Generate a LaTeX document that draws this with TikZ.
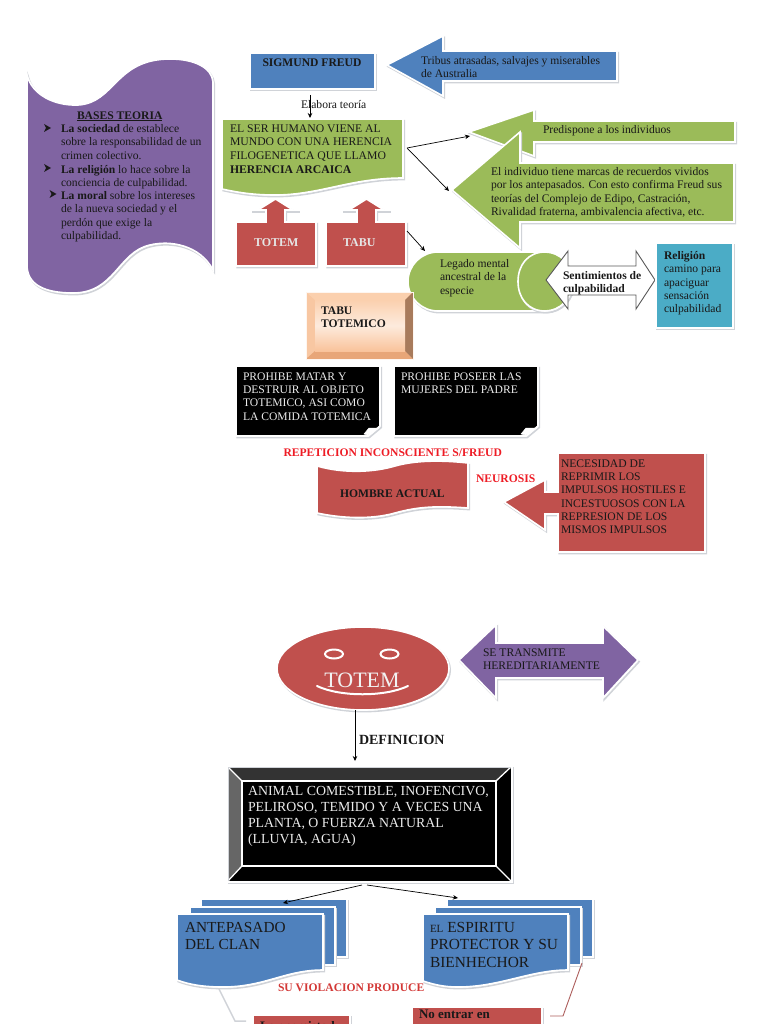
\documentclass[tikz,border=0pt]{standalone}
\usepackage{fontspec}
\setmainfont{Liberation Serif}
\usetikzlibrary{shapes.geometric,calc,arrows.meta}
\definecolor{cblue}{HTML}{4F81BD}
\definecolor{cgreen}{HTML}{9BBB59}
\definecolor{cred}{HTML}{C0504D}
\definecolor{cpurple}{HTML}{8064A2}
\definecolor{cteal}{HTML}{4BACC6}
\definecolor{edge}{HTML}{D0D3D8}
\definecolor{redtxt}{HTML}{EE1C25}
\definecolor{peachA}{HTML}{FBD0AE}
\definecolor{peachB}{HTML}{FDEBDD}
\definecolor{peachC}{HTML}{F9C39B}
\definecolor{peachL}{HTML}{F8C7A2}
\definecolor{peachD}{HTML}{E8A678}
\definecolor{peachR}{HTML}{A87B5C}
\tikzset{
 sh/.style={draw=white,line width=1.6pt,line join=miter,
   preaction={draw=edge,line width=1.6pt,transform canvas={shift={(1.2pt,-1.6pt)}}}},
 boxnode/.style={anchor=north west,inner sep=0pt,outer sep=0pt},
 blueshape/.style={sh,fill=cblue},
 greenshape/.style={sh,fill=cgreen},
 redshape/.style={sh,fill=cred},
 purpleshape/.style={sh,fill=cpurple},
 tealshape/.style={sh,fill=cteal},
 blackshape/.style={sh,fill=black},
 label/.style={inner sep=0pt,outer sep=0pt,anchor=north west,align=left,yshift=-3.5pt,font=\fontsize{11.6}{13.3}\selectfont,text=black!90},
 conn/.style={draw=black,line width=0.7pt,-{Stealth[length=5pt,width=4.5pt]}},
 eye/.style={ellipse,draw=white,fill=cred,line width=2pt,minimum width=18pt,minimum height=9pt,inner sep=0pt}
}
\begin{document}
\begin{tikzpicture}[x=1pt,y=-1pt]
\useasboundingbox (0,0) rectangle (768,1024);
\fill[white] (0,0) rectangle (768,1024);
% purple wave
\path[purpleshape] (27,75) .. controls (32,95) and (55,106) .. (78,105) .. controls (115,103) and (115,59) .. (170,59) .. controls (195,59) and (212,68) .. (213,82) -- (213,270) .. controls (200,245) and (170,240) .. (150,245) .. controls (118,252) and (115,293) .. (73,293) .. controls (45,293) and (27,285) .. (27,265) -- cycle;
\node[label,font=\fontsize{11.6}{13.3}\selectfont\bfseries] (basest) at (77,108) {\underline{BASES TEORIA}};
\node[label] (b1) at (61,121) {\textbf{La sociedad} de establece\\sobre la responsabilidad de un\\crimen colectivo.};
\node[label] (b2) at (61,161.5) {\textbf{La religión} lo hace sobre la\\conciencia de culpabilidad.};
\node[label] (b3) at (61,188) {\textbf{La moral} sobre los intereses\\de la nueva sociedad y el\\perdón que exige la\\culpabilidad.};
\foreach \p/\q in {44/128,44/168,49.5/194}{\fill[black!90] (\p,\q-4) -- (\p+7,\q) -- (\p,\q+4) -- (\p+2,\q) -- cycle;}
% Freud
\node[boxnode,blueshape,minimum width=125pt,minimum height=36pt] (freud) at (250,53) {};
\node[label,font=\fontsize{11.6}{13.3}\selectfont\bfseries] (freudt) at (262.5,55) {SIGMUND FREUD};
% tribus arrow
\path[blueshape] (387,65) -- (443,36) -- (443,51) -- (617,51) -- (617,81) -- (443,81) -- (443,96) -- cycle;
\node[label] (tribus) at (421,53) {Tribus atrasadas, salvajes y miserables\\de Australia};
% elabora
\node[label] (elabora) at (301,97) {Elabora teoría};
% green doc
\path[greenshape] (222,119) -- (403,119) -- (403,178) .. controls (350,178) and (320,195) .. (275,195) .. controls (255,195) and (240,193) .. (222,189) -- cycle;
\node[label,font=\fontsize{11.7}{13.6}\selectfont] (green1) at (230,121) {EL SER HUMANO VIENE AL\\MUNDO CON UNA HERENCIA\\FILOGENETICA QUE LLAMO\\\textbf{HERENCIA ARCAICA}};
\coordinate (el1) at (310,95);
\coordinate (el2) at (310,118);
\draw[conn] (el1) -- (el2);
% totem tabu
\draw[edge,line width=1.5pt] (252,212) -- (266,212) (285,212) -- (300,212) (343,212) -- (357,212) (376,212) -- (391,212);
\path[redshape] (236,222) -- (266,222) -- (266,210) -- (258,210) -- (275.5,199) -- (293,210) -- (285,210) -- (285,222) -- (316,222) -- (316,266) -- (236,266) -- cycle;
\node[label,font=\fontsize{12}{13}\selectfont\bfseries,text=white!90!black] (totemt) at (254,235) {TOTEM};
\path[redshape] (326,222) -- (357,222) -- (357,210) -- (349,210) -- (366.5,199) -- (384,210) -- (376,210) -- (376,222) -- (406,222) -- (406,266) -- (326,266) -- cycle;
\node[label,font=\fontsize{12}{13}\selectfont\bfseries,text=white!90!black] (tabut) at (343,235) {TABU};
% predispone arrow
\path[greenshape] (469,132) -- (534,110) -- (534,121) -- (735,121) -- (735,142) -- (534,142) -- (534,156) -- cycle;
\node[label] (predis) at (543,122) {Predispone a los individuos};
% individuo arrow
\path[greenshape] (452,190) -- (520,132) -- (520,163) -- (734,163) -- (734,222) -- (520,222) -- (520,248) -- cycle;
\node[label] (indiv) at (491,164) {El individuo tiene marcas de recuerdos vividos\\por los antepasados.  Con esto confirma Freud sus\\teorías del Complejo de Edipo, Castración,\\Rivalidad fraterna, ambivalencia afectiva, etc.};
% connectors
\coordinate (c0) at (407,148);
\coordinate (c1) at (470,136);
\coordinate (c2) at (449,191);
\draw[conn] (c0) -- (c1);
\draw[conn] (c0) -- (c2);
\coordinate (c3) at (407,231);
\coordinate (c4) at (425,251);
\draw[conn] (c3) -- (c4);
% cylinder
\path[greenshape] (438,252) -- (545,252) arc (-90:90:28 and 29.5) -- (438,311) arc (90:270:30 and 29.5) -- cycle;
\path[greenshape] (545,252) .. controls (528,252) and (518,265) .. (518,281.5) .. controls (518,298) and (528,311) .. (545,311) .. controls (560,311) and (573,298) .. (573,281.5) .. controls (573,265) and (560,252) .. (545,252) -- cycle;
\node[label] (legado) at (440,256) {Legado mental\\ancestral de la\\especie};
% double arrow
\path[fill=white,draw=black!65,line width=0.9pt] (546,280) -- (568,251) -- (568,266) -- (636,266) -- (636,251) -- (655,280) -- (636,309) -- (636,295) -- (568,295) -- (568,309) -- cycle;
\node[label,font=\fontsize{11.6}{13.3}\selectfont\bfseries] (senti) at (563,268) {Sentimientos de\\culpabilidad};
% religion
\node[boxnode,tealshape,minimum width=77pt,minimum height=85pt] (relig) at (656,243) {};
\node[label] (relt) at (664,248) {\textbf{Religión}\\camino para\\apaciguar\\sensación\\culpabilidad};
% tabu totemico
\fill[peachL] (306,292) rectangle (413,359);
\fill[peachA] (306,292) -- (413,292) -- (405,300) -- (315,300) -- cycle;
\fill[peachD] (306,359) -- (413,359) -- (405,351) -- (315,351) -- cycle;
\fill[peachR] (413,292) -- (405,300) -- (405,351) -- (413,359) -- cycle;
\shade[top color=peachA,bottom color=peachC,middle color=peachB] (315,300) rectangle (405,351);
\draw[white!85!peachC,line width=0.6pt] (306,292) rectangle (413,359);
\node[label,font=\fontsize{11.6}{13.2}\selectfont\bfseries] (tt) at (321,303) {TABU\\TOTEMICO};
% black notes
\path[blackshape] (236,366) -- (380,366) -- (380,426) -- (368,436) -- (236,436) -- cycle;
\path[draw=white,fill=white,line width=0.5pt] (364,434) -- (369,428) -- (379,428) -- (368,435) -- cycle;
\node[label,text=white!92!black] (pro1) at (243,369) {PROHIBE MATAR Y\\DESTRUIR AL OBJETO\\TOTEMICO, ASI COMO\\LA COMIDA TOTEMICA};
\path[blackshape] (394,366) -- (538,366) -- (538,426) -- (526,436) -- (394,436) -- cycle;
\path[draw=white,fill=white,line width=0.5pt] (521,434) -- (526,428) -- (537,428) -- (526,435) -- cycle;
\node[label,text=white!92!black] (pro2) at (401,369) {PROHIBE POSEER LAS\\MUJERES DEL PADRE};
\node[label,font=\fontsize{11.6}{13.3}\selectfont\bfseries,text=redtxt] (rep) at (283.5,445) {REPETICION INCONSCIENTE S/FREUD};
% hombre actual
\path[redshape] (317,466) .. controls (345,474) and (375,472) .. (395,466) .. controls (420,459) and (450,461) .. (468,463) -- (468,508) .. controls (440,506) and (420,506) .. (395,513) .. controls (370,520) and (340,518) .. (317,513) -- cycle;
\node[label,font=\fontsize{11.6}{13.3}\selectfont\bfseries] (hombre) at (340,486) {HOMBRE ACTUAL};
\node[label,font=\fontsize{11.6}{13.3}\selectfont\bfseries,text=redtxt] (neur) at (476,471) {NEUROSIS};
% necesidad with arrow
\path[redshape] (504,502) -- (545,480) -- (545,492) -- (558,492) -- (558,453) -- (705,453) -- (705,552) -- (558,552) -- (558,514) -- (545,514) -- (545,530) -- cycle;
\node[label] (nec) at (561,456) {NECESIDAD DE\\REPRIMIR LOS\\IMPULSOS HOSTILES E\\INCESTUOSOS CON LA\\REPRESION DE LOS\\MISMOS IMPULSOS};
% totem face
\node[ellipse,redshape,minimum width=172pt,minimum height=83pt,inner sep=0pt,outer sep=0pt] (face) at (363,668.5) {};
\node[eye] (eye1) at (334,654) {};
\node[eye] (eye2) at (389.5,654) {};
\node[label,font=\fontsize{22}{23}\selectfont,text=white!95!black,anchor=center] (tot) at (362,677) {TOTEM};
\draw[white,line width=2pt,line cap=round] (317,686) .. controls (340,697) and (385,697) .. (408,686);
% double purple
\path[purpleshape] (459,660) -- (496,625) -- (496,643) -- (603,643) -- (603,626) -- (638,660) -- (603,698) -- (603,678) -- (496,678) -- (496,698) -- cycle;
\node[label] (trans) at (483,645) {SE TRANSMITE\\HEREDITARIAMENTE};
% black frame
\fill[black] (227,766) rectangle (512,882);
\fill[black!80] (227,766) -- (512,766) -- (496,781) -- (242,781) -- cycle;
\fill[black!60] (227,766) -- (242,781) -- (242,866) -- (227,882) -- cycle;
\draw[white,line width=1.3pt] (242,781) rectangle (496,866);
\draw[white,line width=1.3pt] (227,766) -- (242,781) (512,766) -- (496,781) (227,882) -- (242,866) (512,882) -- (496,866);
\path[draw=white,line width=1.3pt,preaction={draw=edge,line width=1.3pt,transform canvas={shift={(1.2pt,-1.2pt)}}}] (227,766) rectangle (512,882);
\node[boxnode,minimum width=285pt,minimum height=116pt] (frame) at (227,766) {};
\node[label,font=\fontsize{13.85}{16}\selectfont,text=white!92!black] (ani) at (248,783) {ANIMAL COMESTIBLE, INOFENCIVO,\\PELIROSO, TEMIDO Y A VECES UNA\\PLANTA, O FUERZA NATURAL\\(LLUVIA, AGUA)};
% definicion
\coordinate (deftip) at (355,761);
\draw[conn] (face.south -| deftip) -- (deftip);
\node[label,font=\fontsize{14}{15}\selectfont\bfseries] (def) at (359,732) {DEFINICION};
% stacks
\path[blueshape] (201,899) -- (347,899) -- (347,957) -- (201,957) -- cycle;
\path[blueshape] (190,907) -- (335,907) -- (335,965) -- (190,965) -- cycle;
\path[blueshape] (177,914) -- (323,914) -- (323,970) .. controls (285,970) and (265,987) .. (223,987) .. controls (205,987) and (190,985) .. (177,980) -- cycle;
\node[label,yshift=-1.5pt,font=\fontsize{15.3}{17.7}\selectfont] (ant) at (185,917) {ANTEPASADO\\DEL CLAN};
\path[blueshape] (447,899) -- (593,899) -- (593,957) -- (447,957) -- cycle;
\path[blueshape] (435,907) -- (581,907) -- (581,965) -- (435,965) -- cycle;
\path[blueshape] (423,914) -- (568,914) -- (568,970) .. controls (530,970) and (500,987) .. (458,987) .. controls (445,987) and (435,985) .. (423,981) -- cycle;
\node[label,yshift=-1.5pt,font=\fontsize{15.4}{17.7}\selectfont] (esp) at (430,917) {{\fontsize{11}{17.7}\selectfont EL} ESPIRITU\\PROTECTOR Y SU\\BIENHECHOR};
\coordinate (f1) at (362,885);
\coordinate (f2) at (367,885);
\coordinate (a1) at (283,903);
\coordinate (a2) at (458,898);
\draw[conn] (f1) -- (a1);
\draw[conn] (f2) -- (a2);
\node[label,font=\fontsize{11.6}{13.3}\selectfont\bfseries,text=cred!70!red] (viol) at (278,980) {SU VIOLACION PRODUCE};
% bottom
\coordinate (l1) at (219,989);
\coordinate (l2) at (235,1021);
\coordinate (l3) at (246,1021);
\draw[edge,line width=1.5pt] (l1) -- (l2) -- (l3);
\coordinate (r1) at (582,963);
\coordinate (r2) at (563,1016);
\coordinate (r3) at (550,1016);
\draw[cred!70!gray,line width=0.9pt] (r1) -- (r2) -- (r3);
\node[boxnode,redshape,minimum width=97pt,minimum height=20pt] (bl) at (253,1015) {};
\node[label,font=\fontsize{13}{13}\selectfont\bfseries] (blt) at (260,1017.5) {La enemistad};
\node[boxnode,redshape,minimum width=130pt,minimum height=30pt] (br) at (412,1007) {};
\node[label,font=\fontsize{13}{13}\selectfont\bfseries] (brt) at (419,1006.5) {No entrar en};
\end{tikzpicture}
\end{document}
